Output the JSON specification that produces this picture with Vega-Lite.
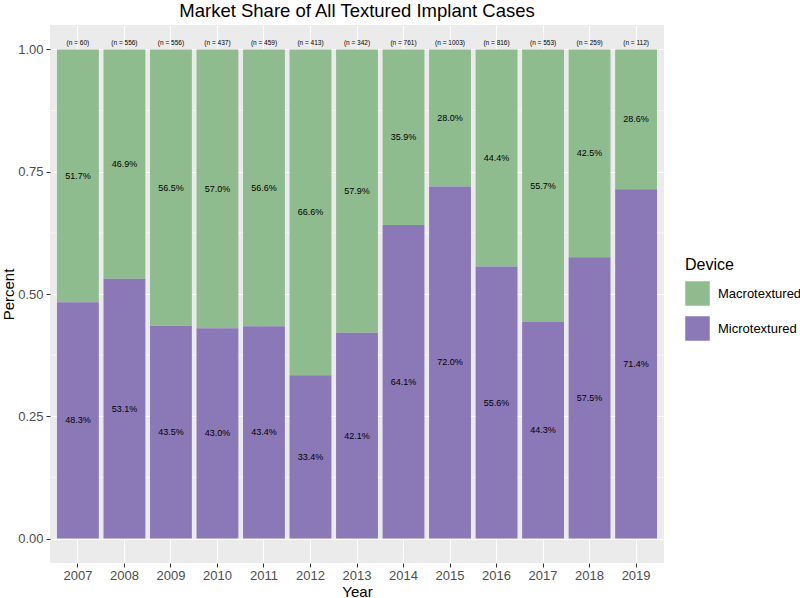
{
  "$schema": "https://vega.github.io/schema/vega-lite/v6.json",
  "autosize": {"type": "none"},
  "padding": {"left": 50, "top": 25, "right": 136, "bottom": 35},
  "width": 614,
  "height": 538,
  "background": "white",
  "title": {
    "text": "Market Share of All Textured Implant Cases",
    "anchor": "middle",
    "fontSize": 18.5,
    "fontWeight": "normal",
    "color": "black",
    "font": "Liberation Sans",
    "offset": 5
  },
  "config": {
    "font": "Liberation Sans",
    "view": {"fill": "#ebebeb", "stroke": null},
    "axis": {
      "domain": false,
      "tickColor": "#333333",
      "tickSize": 4,
      "labelColor": "#4d4d4d",
      "labelFontSize": 13,
      "titleColor": "black",
      "titleFontSize": 15,
      "titleFontWeight": "normal",
      "gridColor": "white",
      "gridWidth": 1.1
    }
  },
  "datasets": {
    "shares": [
      {"Year": "2007", "Device": "Macrotextured", "Pct": 0.517},
      {"Year": "2007", "Device": "Microtextured", "Pct": 0.483},
      {"Year": "2008", "Device": "Macrotextured", "Pct": 0.469},
      {"Year": "2008", "Device": "Microtextured", "Pct": 0.531},
      {"Year": "2009", "Device": "Macrotextured", "Pct": 0.565},
      {"Year": "2009", "Device": "Microtextured", "Pct": 0.435},
      {"Year": "2010", "Device": "Macrotextured", "Pct": 0.570},
      {"Year": "2010", "Device": "Microtextured", "Pct": 0.430},
      {"Year": "2011", "Device": "Macrotextured", "Pct": 0.566},
      {"Year": "2011", "Device": "Microtextured", "Pct": 0.434},
      {"Year": "2012", "Device": "Macrotextured", "Pct": 0.666},
      {"Year": "2012", "Device": "Microtextured", "Pct": 0.334},
      {"Year": "2013", "Device": "Macrotextured", "Pct": 0.579},
      {"Year": "2013", "Device": "Microtextured", "Pct": 0.421},
      {"Year": "2014", "Device": "Macrotextured", "Pct": 0.359},
      {"Year": "2014", "Device": "Microtextured", "Pct": 0.641},
      {"Year": "2015", "Device": "Macrotextured", "Pct": 0.280},
      {"Year": "2015", "Device": "Microtextured", "Pct": 0.720},
      {"Year": "2016", "Device": "Macrotextured", "Pct": 0.444},
      {"Year": "2016", "Device": "Microtextured", "Pct": 0.556},
      {"Year": "2017", "Device": "Macrotextured", "Pct": 0.557},
      {"Year": "2017", "Device": "Microtextured", "Pct": 0.443},
      {"Year": "2018", "Device": "Macrotextured", "Pct": 0.425},
      {"Year": "2018", "Device": "Microtextured", "Pct": 0.575},
      {"Year": "2019", "Device": "Macrotextured", "Pct": 0.286},
      {"Year": "2019", "Device": "Microtextured", "Pct": 0.714}
    ],
    "totals": [
      {"Year": "2007", "n": 60, "top": 1},
      {"Year": "2008", "n": 556, "top": 1},
      {"Year": "2009", "n": 556, "top": 1},
      {"Year": "2010", "n": 437, "top": 1},
      {"Year": "2011", "n": 459, "top": 1},
      {"Year": "2012", "n": 413, "top": 1},
      {"Year": "2013", "n": 342, "top": 1},
      {"Year": "2014", "n": 761, "top": 1},
      {"Year": "2015", "n": 1003, "top": 1},
      {"Year": "2016", "n": 816, "top": 1},
      {"Year": "2017", "n": 553, "top": 1},
      {"Year": "2018", "n": 259, "top": 1},
      {"Year": "2019", "n": 112, "top": 1}
    ]
  },
  "data": {"name": "shares"},
  "encoding": {
    "x": {
      "field": "Year",
      "type": "nominal",
      "title": "Year",
      "scale": {"paddingInner": 0.1, "paddingOuter": 0.15},
      "axis": {"labelAngle": 0, "bandPosition": 0.5, "grid": true, "titlePadding": 2, "labelPadding": 2}
    }
  },
  "layer": [
    {
      "mark": {"type": "rule", "color": "white", "strokeWidth": 0.55},
      "data": {"values": [{"v": 0.125}, {"v": 0.375}, {"v": 0.625}, {"v": 0.875}]},
      "encoding": {
        "x": null,
        "y": {"field": "v", "type": "quantitative", "scale": {"domain": [-0.05, 1.05], "nice": false, "zero": false}}
      }
    },
    {
      "mark": {"type": "bar"},
      "encoding": {
        "y": {
          "field": "Pct",
          "type": "quantitative",
          "stack": "zero",
          "title": "Percent",
          "scale": {"domain": [-0.05, 1.05], "nice": false, "zero": false},
          "axis": {"values": [0, 0.25, 0.5, 0.75, 1], "format": ".2f", "grid": true, "titlePadding": 1, "labelPadding": 3}
        },
        "color": {
          "field": "Device",
          "type": "nominal",
          "scale": {"domain": ["Macrotextured", "Microtextured"], "range": ["#8fbc8f", "#8b79b7"]},
          "legend": {
            "orient": "none",
            "legendX": 635,
            "legendY": 232,
            "title": "Device",
            "titleFontSize": 16,
            "titleFontWeight": "normal",
            "titleColor": "black",
            "titlePadding": 8,
            "labelFontSize": 13,
            "labelColor": "black",
            "symbolType": "square",
            "symbolSize": 600,
            "symbolStrokeWidth": 0,
            "symbolOpacity": 1,
            "rowPadding": 10,
            "labelOffset": 8
          }
        },
        "order": {"field": "Device", "sort": "descending"}
      }
    },
    {
      "transform": [
        {"stack": "Pct", "groupby": ["Year"], "sort": [{"field": "Device", "order": "descending"}], "as": ["lo", "hi"]},
        {"calculate": "(datum.lo + datum.hi) / 2", "as": "mid"}
      ],
      "mark": {"type": "text", "fontSize": 9, "color": "black"},
      "encoding": {
        "y": {"field": "mid", "type": "quantitative"},
        "text": {"field": "Pct", "type": "quantitative", "format": ".1%"}
      }
    },
    {
      "data": {"name": "totals"},
      "transform": [
        {"calculate": "'(n = ' + datum.n + ')'", "as": "label"}
      ],
      "mark": {"type": "text", "fontSize": 6.5, "color": "black", "baseline": "bottom", "dy": -3},
      "encoding": {
        "y": {"field": "top", "type": "quantitative"},
        "text": {"field": "label", "type": "nominal"}
      }
    }
  ]
}
